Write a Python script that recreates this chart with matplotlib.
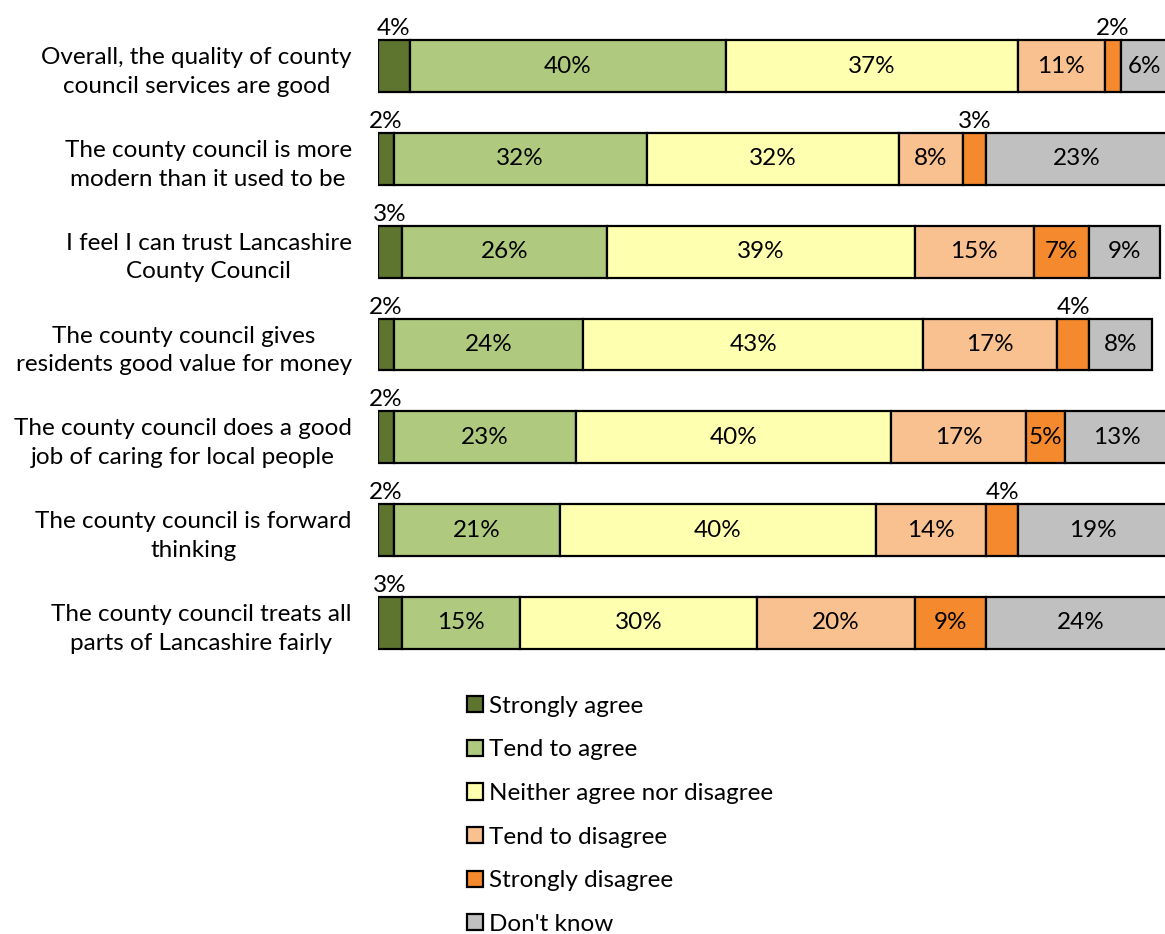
import numpy as np
import matplotlib.pyplot as plt

plt.rcParams['font.family'] = ['Lato', 'DejaVu Sans']

statements = [
    "Overall, the quality of county\ncouncil services are good",
    "The county council is more\nmodern than it used to be",
    "I feel I can trust Lancashire\nCounty Council",
    "The county council gives\nresidents good value for money",
    "The county council does a good\njob of caring for local people",
    "The county council is forward\nthinking",
    "The county council treats all\nparts of Lancashire fairly",
]

responses = ["Strongly agree", "Tend to agree", "Neither agree nor disagree",
             "Tend to disagree", "Strongly disagree", "Don't know"]

strongly_agree = [4, 2, 3, 2, 2, 2, 3]
tend_agree = [40, 32, 26, 24, 23, 21, 15]
neither = [37, 32, 39, 43, 40, 40, 30]
tend_disagree = [11, 8, 15, 17, 17, 14, 20]
strongly_disagree = [2, 3, 7, 4, 5, 4, 9]
dont_know = [6, 23, 9, 8, 13, 19, 24]

colors = ['#5E7530', '#AFCA7E', '#FFFFB0', '#F9C090', '#F5892E', '#C0C0C0']

series = [strongly_agree, tend_agree, neither, tend_disagree,
          strongly_disagree, dont_know]

fig = plt.figure(figsize=(11.65, 9.34), dpi=100)
ax = fig.add_axes([0.3245, 0.2833, 0.678, 0.6957])

y = np.arange(len(statements))
bar_h = 0.56
left = np.zeros(len(statements))
fs = 17.5

for vals, name, col in zip(series, responses, colors):
    vals = np.array(vals, dtype=float)
    ax.barh(y, vals, left=left, height=bar_h, color=col,
            edgecolor='black', linewidth=1.6, label=name)
    for yi, l, v in zip(y, left, vals):
        cx = l + v / 2
        if v < 5:
            # small segments get their label above the bar
            ax.text(cx, yi - bar_h / 2 - 0.01, f"{int(v)}%", ha='center',
                    va='bottom', fontsize=fs, clip_on=False)
        else:
            ax.text(cx, yi, f"{int(v)}%", ha='center', va='center',
                    fontsize=fs)
    left += vals

ax.set_xlim(0, 100)
ax.set_ylim(len(statements) - 0.5, -0.5)
ax.set_yticks(y)
ax.set_yticklabels(statements, fontsize=fs, multialignment='center',
                   linespacing=1.45)
ax.tick_params(axis='y', length=0, pad=19)
ax.set_xticks([])
for s in ax.spines.values():
    s.set_visible(False)

fig.legend(loc='upper left', bbox_to_anchor=(445 / 1165, 1 - 674 / 934),
           frameon=False, fontsize=fs, ncol=1, labelspacing=0.93,
           handlelength=0.65, handleheight=0.65, handletextpad=0.25)

fig.savefig('out.png', dpi=100)
